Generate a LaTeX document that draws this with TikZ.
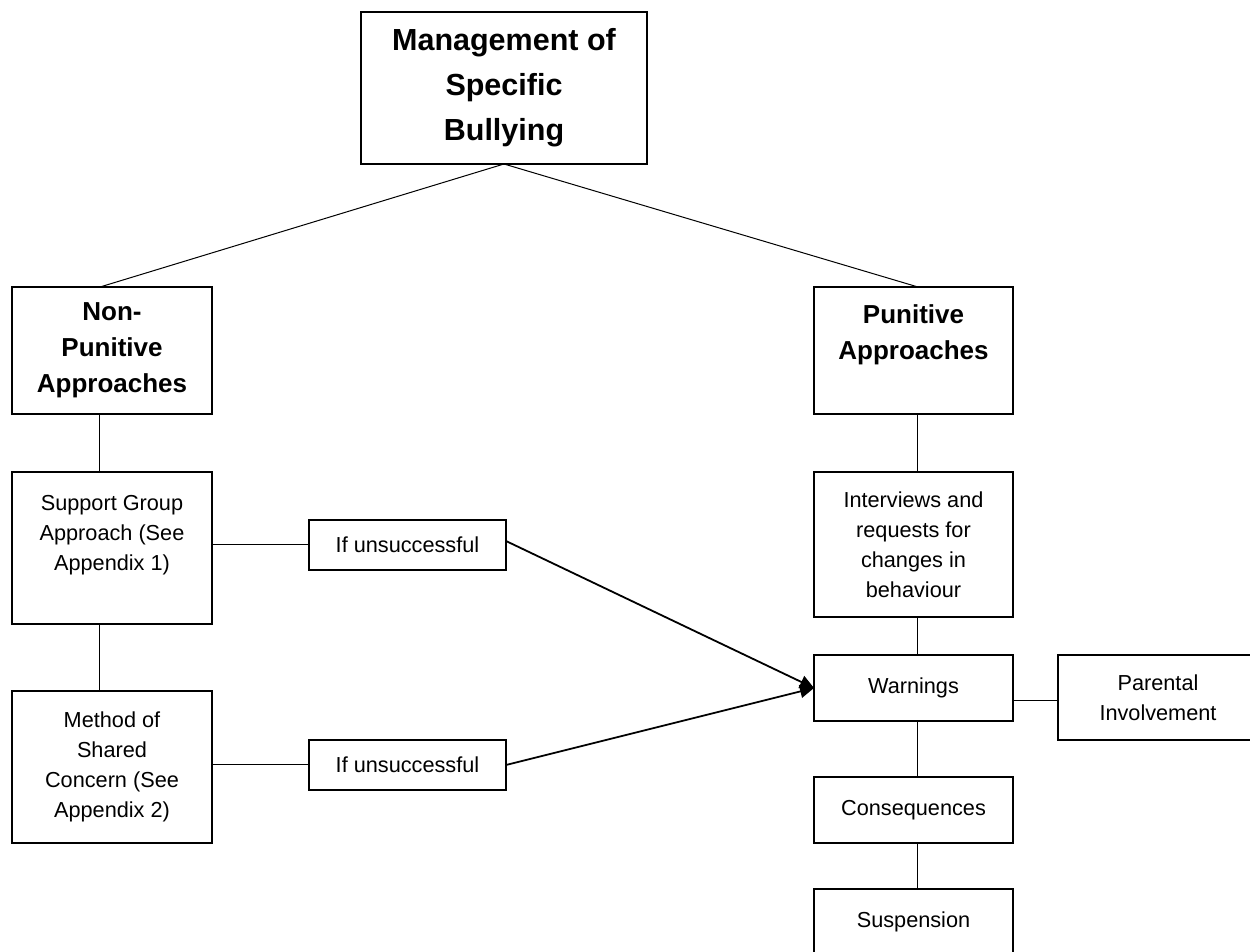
\documentclass[tikz,border=0pt]{standalone}
\usepackage{fontspec}
\setmainfont{Liberation Sans}
\usetikzlibrary{arrows.meta,positioning}
\tikzstyle{plainbox} = [draw, rectangle, line width=0.7pt, inner sep=2pt, outer sep=0pt, align=center, font=\fontsize{10.85}{15}\selectfont]
\tikzstyle{headbox} = [plainbox, font=\fontsize{13}{18}\selectfont\bfseries]
\tikzstyle{titlebox} = [plainbox, font=\fontsize{15.25}{22.5}\selectfont\bfseries]
\tikzstyle{link} = [line width=0.5pt]
\tikzstyle{leadto} = [line width=0.9pt,-{Triangle[length=7pt,width=6.5pt]}]

\begin{document}
\begin{tikzpicture}
\useasboundingbox (-252pt,44pt) rectangle (373pt,-432pt);

\node[titlebox, minimum width=143pt, minimum height=76pt] (mgmt) {Management of\\Specific\\Bullying};
\node[headbox, minimum width=100pt, minimum height=63.5pt, below=61.5pt of mgmt, xshift=-196pt] (nonpun) {Non-\\Punitive\\Approaches};
\node[headbox, minimum width=99.5pt, minimum height=63.5pt, below=61.5pt of mgmt, xshift=204.75pt] (pun) {Punitive\\Approaches\\~};

% left column
\node[plainbox, minimum width=100pt, minimum height=76pt, below=29pt of nonpun] (support) {Support Group\\Approach (See\\Appendix 1)\\~};
\node[plainbox, minimum width=100pt, minimum height=76pt, below=33.5pt of support] (method) {Method of\\Shared\\Concern (See\\Appendix 2)};
\node[plainbox, minimum width=98.5pt, minimum height=25pt, right=48.5pt of support, yshift=1.5pt] (fail1) {If unsuccessful};
\node[plainbox, minimum width=98.5pt, minimum height=25pt, right=48.5pt of method, yshift=1pt] (fail2) {If unsuccessful};

% right column
\node[plainbox, minimum width=99.5pt, minimum height=72.5pt, below=29pt of pun] (talks) {Interviews and\\requests for\\changes in\\behaviour};
\node[plainbox, minimum width=99.5pt, minimum height=33pt, below=19pt of talks] (warn) {Warnings};
\node[plainbox, minimum width=100pt, minimum height=42.5pt, right=22.5pt of warn, yshift=-4.75pt] (parent) {Parental\\Involvement};
\node[plainbox, minimum width=99.5pt, minimum height=33pt, below=28pt of warn] (conseq) {Consequences};
\node[plainbox, minimum width=99.5pt, minimum height=33pt, below=23pt of conseq] (susp) {Suspension};

\draw[link] (mgmt.south) -- ([xshift=-6pt]nonpun.north);
\draw[link] (mgmt.south) -- ([xshift=2.25pt]pun.north);
\draw[link] ([xshift=-6pt]nonpun.south) -- ([xshift=-6pt]support.north);
\draw[link] ([xshift=-6pt]support.south) -- ([xshift=-6pt]method.north);
\draw[link] (fail1.west -| support.east) -- (fail1.west);
\draw[link] (fail2.west -| method.east) -- (fail2.west);
\draw[link] ([xshift=2.25pt]pun.south) -- ([xshift=2.25pt]talks.north);
\draw[link] ([xshift=2.25pt]talks.south) -- ([xshift=2.25pt]warn.north);
\draw[link] ([xshift=2.25pt]warn.south) -- ([xshift=2.25pt]conseq.north);
\draw[link] ([xshift=2.25pt]conseq.south) -- ([xshift=2.25pt]susp.north);
\draw[link] ([yshift=-1.75pt]parent.west -| warn.east) -- ([yshift=-1.75pt]parent.west);

\draw[leadto] ([yshift=2pt]fail1.east) -- (warn.west);
\draw[leadto] (fail2.east) -- (warn.west);
\end{tikzpicture}
\end{document}
